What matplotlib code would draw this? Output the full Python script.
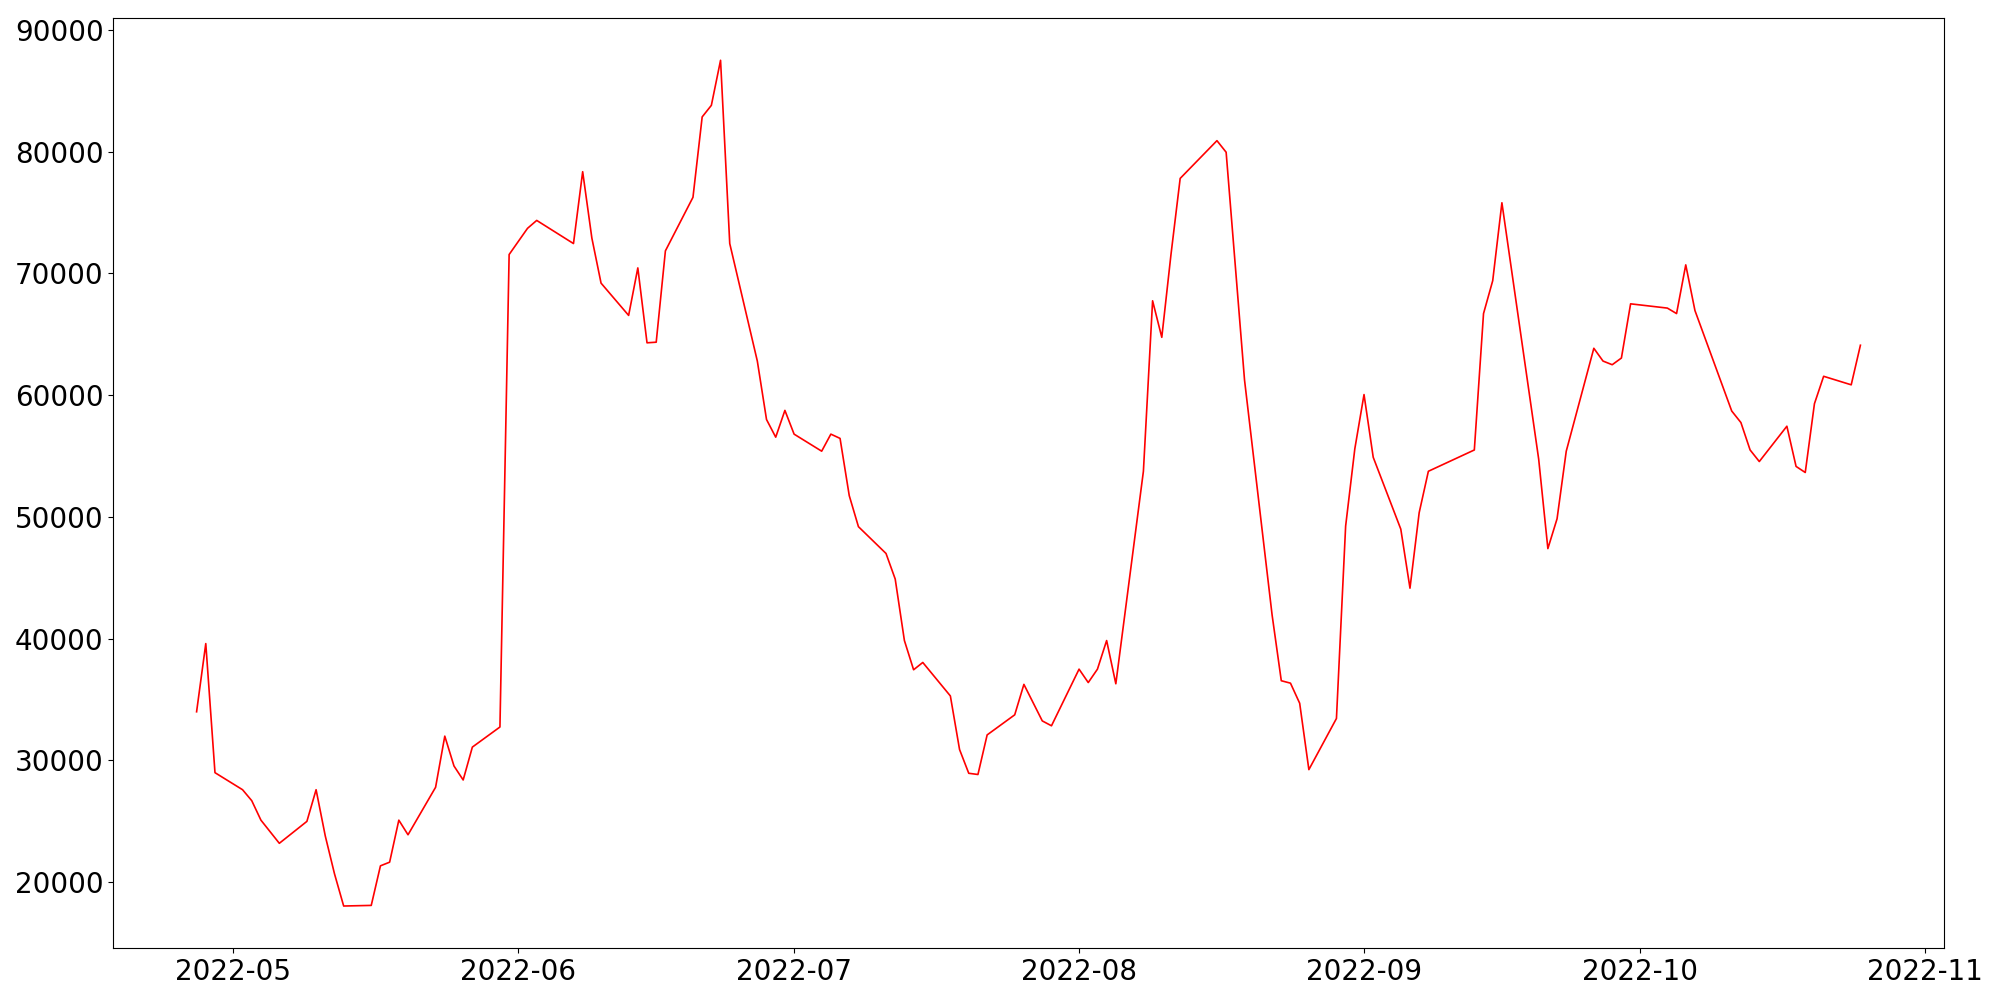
import matplotlib
matplotlib.use("Agg")
import matplotlib.pyplot as plt
import matplotlib.dates as mdates
import pandas as pd

dates = [
    "2022-04-27", "2022-04-28", "2022-04-29", "2022-05-02", "2022-05-03", "2022-05-04",
    "2022-05-06", "2022-05-09", "2022-05-10", "2022-05-11", "2022-05-12", "2022-05-13",
    "2022-05-16", "2022-05-17", "2022-05-18", "2022-05-19", "2022-05-20", "2022-05-23",
    "2022-05-24", "2022-05-25", "2022-05-26", "2022-05-27", "2022-05-30", "2022-05-31",
    "2022-06-02", "2022-06-03", "2022-06-07", "2022-06-08", "2022-06-09", "2022-06-10",
    "2022-06-13", "2022-06-14", "2022-06-15", "2022-06-16", "2022-06-17", "2022-06-20",
    "2022-06-21", "2022-06-22", "2022-06-23", "2022-06-24", "2022-06-27", "2022-06-28",
    "2022-06-29", "2022-06-30", "2022-07-01", "2022-07-04", "2022-07-05", "2022-07-06",
    "2022-07-07", "2022-07-08", "2022-07-11", "2022-07-12", "2022-07-13", "2022-07-14",
    "2022-07-15", "2022-07-18", "2022-07-19", "2022-07-20", "2022-07-21", "2022-07-22",
    "2022-07-25", "2022-07-26", "2022-07-28", "2022-07-29", "2022-08-01", "2022-08-02",
    "2022-08-03", "2022-08-04", "2022-08-05", "2022-08-08", "2022-08-09", "2022-08-10",
    "2022-08-11", "2022-08-12", "2022-08-16", "2022-08-17", "2022-08-19", "2022-08-22",
    "2022-08-23", "2022-08-24", "2022-08-25", "2022-08-26", "2022-08-29", "2022-08-30",
    "2022-08-31", "2022-09-01", "2022-09-02", "2022-09-05", "2022-09-06", "2022-09-07",
    "2022-09-08", "2022-09-13", "2022-09-14", "2022-09-15", "2022-09-16", "2022-09-20",
    "2022-09-21", "2022-09-22", "2022-09-23", "2022-09-26", "2022-09-27", "2022-09-28",
    "2022-09-29", "2022-09-30", "2022-10-04", "2022-10-05", "2022-10-06", "2022-10-07",
    "2022-10-11", "2022-10-12", "2022-10-13", "2022-10-14", "2022-10-17", "2022-10-18",
    "2022-10-19", "2022-10-20", "2022-10-21", "2022-10-24", "2022-10-25",
]

values = [
    34000, 39600, 29000, 27600, 26700, 25100,
    23200, 25000, 27600, 23800, 20700, 18050,
    18100, 21350, 21650, 25100, 23900, 27800,
    32000, 29550, 28400, 31100, 32750, 71550,
    73700, 74350, 72450, 78350, 72900, 69200,
    66550, 70450, 64300, 64350, 71850, 76250,
    82850, 83800, 87500, 72450, 62800, 58000,
    56550, 58750, 56800, 55400, 56800, 56450,
    51750, 49200, 47000, 44900, 39850, 37450,
    38050, 35300, 30900, 28950, 28850, 32100,
    33750, 36250, 33250, 32850, 37500, 36400,
    37500, 39850, 36300, 53750, 67750, 64750,
    71550, 77800, 80900, 79950, 61250, 41950,
    36550, 36350, 34700, 29250, 33450, 49250,
    55600, 60050, 54900, 49000, 44150, 50350,
    53750, 55500, 66700, 69400, 75800, 54750,
    47400, 49850, 55400, 63850, 62800, 62500,
    63050, 67500, 67150, 66700, 70700, 66950,
    58700, 57750, 55500, 54550, 57450, 54150,
    53650, 59300, 61550, 60850, 64100,
]

x = pd.to_datetime(dates)

fig = plt.figure(figsize=(20, 10), dpi=100)
ax = fig.add_axes([0.0567, 0.0517, 0.9151, 0.9303])
ax.plot(x, values, color="red", linewidth=1.2)

ax.xaxis.set_major_locator(mdates.MonthLocator())
ax.xaxis.set_major_formatter(mdates.DateFormatter("%Y-%m"))
ax.tick_params(axis="both", labelsize=20)

fig.savefig("out.png", dpi=100)
